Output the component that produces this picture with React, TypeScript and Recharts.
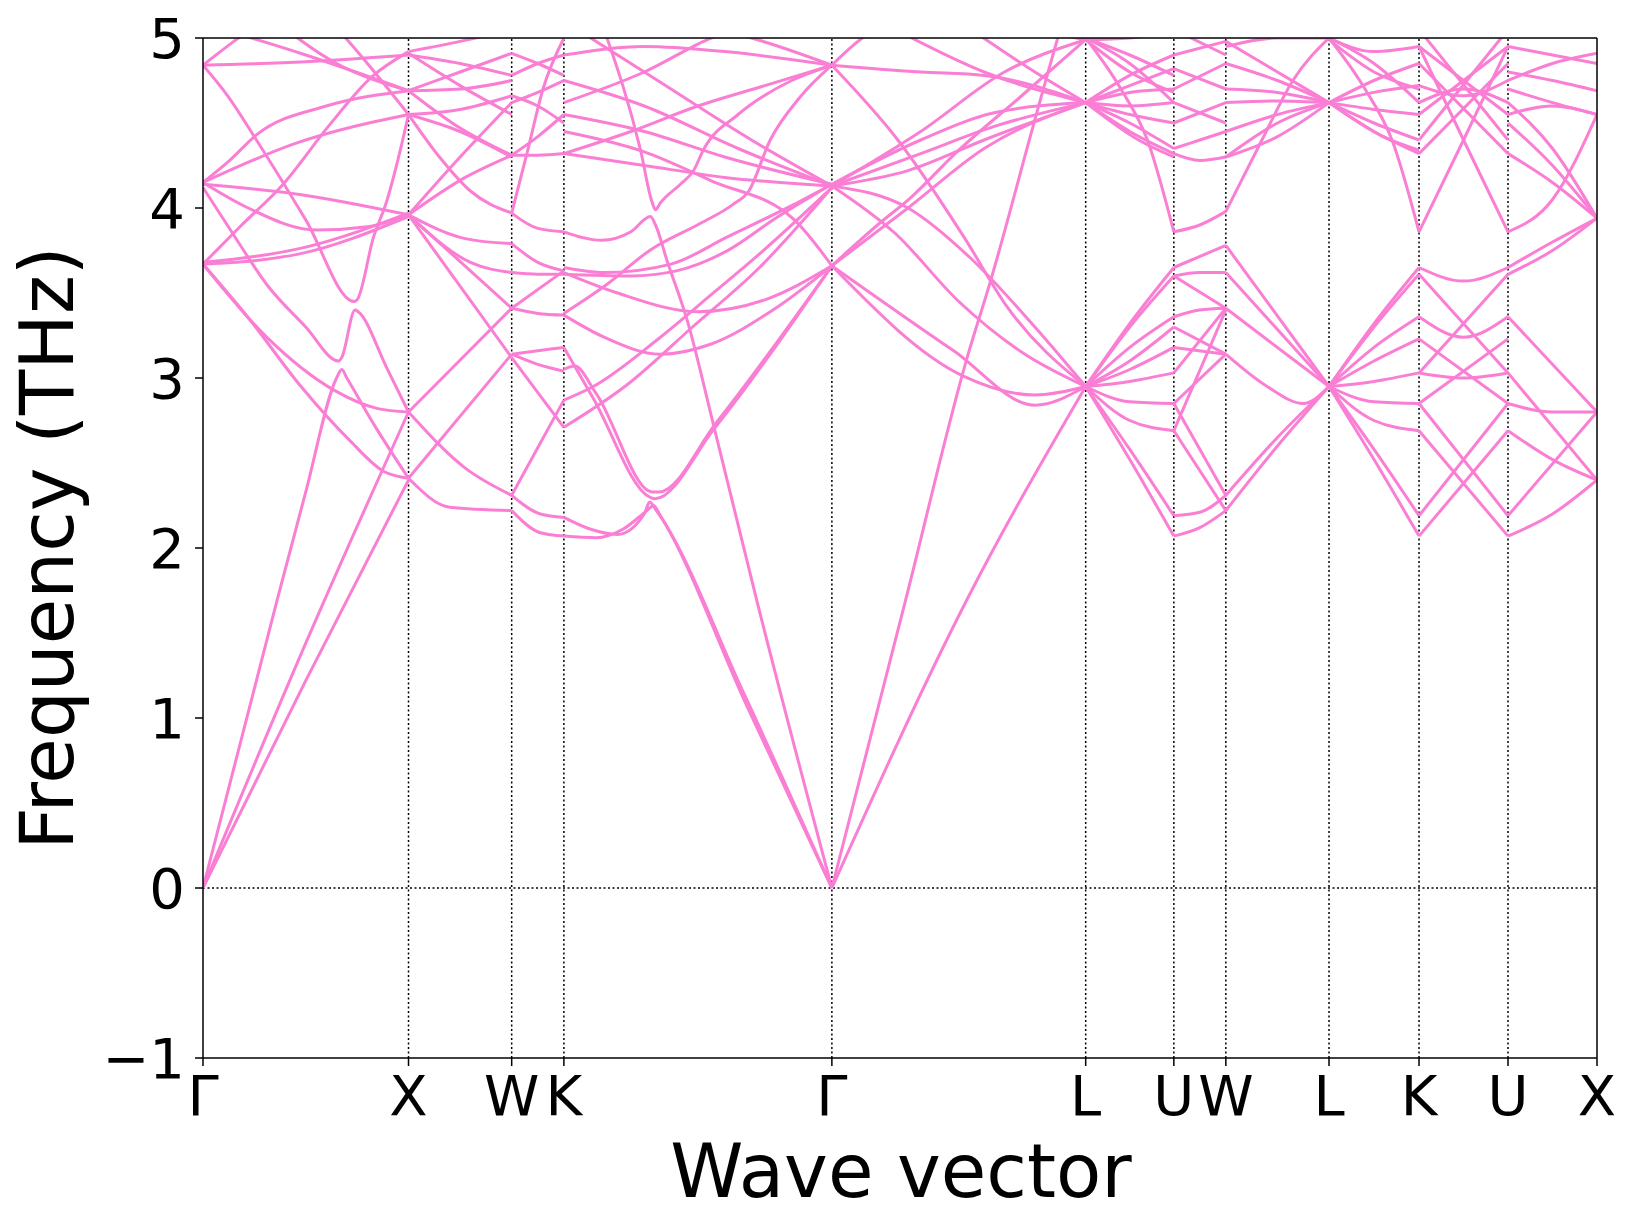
import { LineChart, Line, XAxis, YAxis, ReferenceLine } from "recharts";

// path positions of the high-symmetry points (wave vector axis)
const pathTicks = [0, 1, 1.502, 1.756, 3.06, 4.295, 4.724, 4.977, 5.479, 5.917, 6.35, 6.783];
const pathLabels = ["Γ", "X", "W", "K", "Γ", "L", "U", "W", "L", "K", "U", "X"];
const freqTicks = [-1, 0, 1, 2, 3, 4, 5];

// each band piece: [fraction along segment, frequency THz]
type Band = number[][];

const gammaX: Band[] = [
  [[0, 0], [0.5, 1.22], [1, 2.4]],
  [[0, 0], [0.5, 1.44], [1, 2.8]],
  [[0, 0], [0.36, 1.69], [0.5, 2.33], [0.65, 3.0], [0.675, 3.05], [0.7, 3.0], [0.83, 2.73], [1, 2.41]],
  [[0, 4.12], [0.15, 3.84], [0.31, 3.55], [0.5, 3.3], [0.66, 3.1], [0.675, 3.12], [0.74, 3.4], [0.755, 3.39], [0.894, 3.06], [1, 2.8]],
  [[0, 4.84], [0.12, 4.66], [0.26, 4.4], [0.5, 3.93], [0.735, 3.45], [0.75, 3.46], [0.83, 3.83], [0.894, 4.04], [0.96, 4.34], [1, 4.55]],
  [[0, 4.15], [0.13, 4.28], [0.26, 4.43], [0.6, 4.6], [1, 4.69]],
  [[0, 3.67], [0.23, 3.34], [0.47, 2.96], [0.716, 2.63], [0.88, 2.45], [1, 2.41]],
  [[0, 3.67], [0.31, 3.24], [0.635, 2.93], [0.85, 2.82], [1, 2.8]],
  [[0, 3.67], [0.47, 3.73], [1, 3.95]],
  [[0, 3.68], [0.5, 3.77], [1, 3.97]],
  [[0, 3.67], [0.18, 3.89], [0.39, 4.14], [0.61, 4.48], [0.82, 4.77], [1, 4.92]],
  [[0, 4.15], [0.22, 4.0], [0.55, 3.87], [0.8, 3.89], [1, 3.96]],
  [[0, 4.14], [0.47, 4.08], [1, 3.96]],
  [[0, 4.15], [0.45, 4.38], [1, 4.55]],
  [[0, 4.84], [0.5, 4.86], [1, 4.9]],
  [[0, 4.84], [0.15, 4.98], [0.35, 5.15]],
  [[0.3, 5.15], [0.65, 4.85], [1, 4.69]],
  [[0.55, 5.2], [0.8, 4.85], [1, 4.55]],
  [[0.1, 5.05], [0.5, 4.9], [1, 4.69]],
];

const xW: Band[] = [
  [[0, 2.41], [1, 3.14]],
  [[0, 2.8], [1, 3.41]],
  [[0, 2.8], [0.55, 2.47], [1, 2.31]],
  [[0, 2.41], [0.4, 2.24], [1, 2.22]],
  [[0, 3.96], [1, 3.12]],
  [[0, 3.96], [1, 3.41]],
  [[0, 3.96], [0.6, 3.68], [1, 3.62]],
  [[0, 3.96], [0.55, 3.82], [1, 3.79]],
  [[0, 3.96], [0.55, 4.18], [1, 4.31]],
  [[0, 3.96], [0.5, 4.3], [1, 4.62]],
  [[0, 4.55], [0.3, 4.3], [0.6, 4.1], [1, 3.97]],
  [[0, 4.55], [0.5, 4.58], [1, 4.66]],
  [[0, 4.55], [0.5, 4.45], [1, 4.3]],
  [[0, 4.69], [0.5, 4.47], [1, 4.31]],
  [[0, 4.69], [0.5, 4.7], [1, 4.75]],
  [[0, 4.69], [0.5, 4.8], [1, 4.91]],
  [[0, 4.91], [0.5, 4.72], [1, 4.55]],
  [[0, 4.92], [0.5, 4.98], [1, 5.05]],
  [[0, 4.9], [0.5, 4.85], [1, 4.78]],
];

const wK: Band[] = [
  [[0, 2.22], [0.55, 2.09], [1, 2.07]],
  [[0, 2.31], [0.55, 2.2], [1, 2.18]],
  [[0, 3.12], [1, 2.71]],
  [[0, 2.31], [1, 2.87]],
  [[0, 3.14], [0.5, 3.16], [1, 3.18]],
  [[0, 3.14], [0.5, 3.08], [1, 3.04]],
  [[0, 3.41], [0.5, 3.38], [1, 3.37]],
  [[0, 3.41], [1, 3.63]],
  [[0, 3.62], [0.5, 3.61], [1, 3.61]],
  [[0, 3.79], [0.5, 3.68], [1, 3.63]],
  [[0, 3.97], [0.5, 3.88], [1, 3.86]],
  [[0, 3.97], [0.3, 4.33], [0.6, 4.7], [1, 5.0]],
  [[0, 4.31], [0.5, 4.31], [1, 4.32]],
  [[0, 4.31], [0.5, 4.42], [1, 4.55]],
  [[0, 4.62], [0.5, 4.68], [1, 4.75]],
  [[0, 4.66], [0.5, 4.6], [1, 4.5]],
  [[0, 4.91], [0.5, 4.85], [1, 4.78]],
  [[0, 4.78], [0.5, 4.85], [1, 4.9]],
];

const kGamma: Band[] = [
  [[0, 2.07], [0.12, 2.06], [0.22, 2.11], [0.31, 2.22], [0.335, 2.25], [0.36, 2.19], [0.68, 1.08], [1, 0]],
  [[0, 2.18], [0.1, 2.11], [0.2, 2.08], [0.3, 2.2], [0.32, 2.27], [0.345, 2.22], [0.67, 1.15], [1, 0]],
  [[0, 3.86], [0.14, 3.81], [0.25, 3.86], [0.323, 3.95], [0.342, 3.9], [0.385, 3.69], [0.46, 3.34], [0.559, 2.72], [0.72, 1.69], [1, 0]],
  [[0.15, 5.05], [0.286, 4.34], [0.33, 4.03], [0.342, 3.99], [0.36, 4.03], [0.435, 4.14], [0.484, 4.22], [0.52, 4.34], [0.65, 4.55], [0.85, 4.75], [1, 4.84]],
  [[0, 3.18], [0.11, 2.88], [0.32, 2.3], [0.34, 2.29], [0.56, 2.7], [1, 3.66]],
  [[0, 3.05], [0.04, 3.07], [0.12, 2.91], [0.33, 2.33], [0.355, 2.33], [0.57, 2.74], [1, 3.66]],
  [[0, 3.62], [0.2, 3.5], [0.5, 3.39], [0.75, 3.46], [1, 3.66]],
  [[0, 3.37], [0.15, 3.24], [0.36, 3.14], [0.55, 3.2], [0.78, 3.4], [1, 3.66]],
  [[0, 3.65], [0.15, 3.62], [0.4, 3.67], [0.61, 3.83], [0.857, 4.02], [1, 4.14]],
  [[0, 3.61], [0.25, 3.6], [0.42, 3.63], [0.6, 3.74], [0.8, 3.95], [1, 4.14]],
  [[0, 3.38], [0.16, 3.55], [0.32, 3.75], [0.51, 3.91], [0.63, 4.02], [0.69, 4.1], [0.77, 4.4], [0.88, 4.65], [1, 4.84]],
  [[0, 2.87], [0.11, 2.95], [0.36, 3.24], [0.55, 3.49], [0.73, 3.73], [1, 4.12]],
  [[0, 2.71], [0.236, 2.96], [0.48, 3.3], [0.73, 3.65], [1, 4.12]],
  [[0, 4.45], [0.3, 4.33], [0.55, 4.16], [0.86, 3.93], [1, 3.66]],
  [[0, 4.32], [0.3, 4.25], [0.6, 4.18], [1, 4.13]],
  [[0, 4.55], [0.3, 4.45], [0.6, 4.3], [1, 4.14]],
  [[0, 4.75], [0.3, 4.6], [0.65, 4.35], [1, 4.13]],
  [[0.05, 5.05], [0.35, 4.75], [0.7, 4.4], [1, 4.13]],
  [[0, 4.32], [0.25, 4.45], [0.5, 4.6], [0.75, 4.72], [1, 4.84]],
  [[0, 4.9], [0.3, 4.95], [0.6, 4.92], [1, 4.84]],
  [[0.4, 5.1], [0.7, 5.0], [1, 4.84]],
  [[0, 4.62], [0.3, 4.8], [0.55, 5.0], [0.75, 5.1]],
];

const gammaL: Band[] = [
  [[0, 0], [0.29, 1.69], [0.533, 3.12], [0.625, 3.57], [0.8, 4.52], [0.89, 5.0], [0.95, 5.3]],
  [[0, 0], [0.53, 1.69], [1, 2.95]],
  [[0, 3.66], [0.48, 3.16], [0.8, 2.84], [1, 2.95]],
  [[0, 3.66], [0.52, 3.01], [0.8, 2.9], [1, 2.95]],
  [[0, 4.13], [0.25, 3.85], [0.5, 3.45], [0.75, 3.15], [1, 2.95]],
  [[0, 4.13], [0.3, 4.0], [0.55, 3.7], [0.8, 3.3], [1, 2.95]],
  [[0, 4.84], [0.26, 4.4], [0.52, 3.83], [0.69, 3.42], [1, 2.95]],
  [[0, 4.14], [0.35, 4.4], [0.64, 4.56], [1, 4.62]],
  [[0, 4.13], [0.35, 4.32], [0.64, 4.48], [1, 4.62]],
  [[0, 4.13], [0.3, 4.22], [0.6, 4.4], [1, 4.62]],
  [[0, 4.13], [0.35, 4.45], [0.68, 4.8], [1, 4.99]],
  [[0, 3.66], [0.18, 3.9], [0.31, 4.06], [0.5, 4.34], [0.74, 4.65], [1, 4.99]],
  [[0, 3.66], [0.3, 4.0], [0.6, 4.35], [1, 4.62]],
  [[0, 4.84], [0.35, 4.8], [0.6, 4.78], [1, 4.62]],
  [[0, 4.84], [0.12, 5.0], [0.25, 5.1]],
  [[0.25, 5.05], [0.6, 4.8], [1, 4.62]],
  [[0.5, 5.1], [0.8, 4.8], [1, 4.62]],
  [[0.6, 5.1], [1, 4.99]],
];

const lU: Band[] = [
  [[0, 2.95], [0.5, 3.32], [1, 3.65]],
  [[0, 2.95], [0.5, 3.3], [1, 3.6]],
  [[0, 2.95], [0.5, 3.18], [1, 3.36]],
  [[0, 2.95], [0.5, 3.1], [1, 3.3]],
  [[0, 2.95], [0.5, 3.05], [1, 3.18]],
  [[0, 2.95], [0.5, 2.98], [1, 3.03]],
  [[0, 2.95], [0.5, 2.86], [1, 2.85]],
  [[0, 2.95], [0.5, 2.75], [1, 2.69]],
  [[0, 2.95], [0.5, 2.58], [1, 2.19]],
  [[0, 2.95], [0.5, 2.52], [1, 2.07]],
  [[0, 4.62], [0.5, 4.45], [1, 4.32]],
  [[0, 4.62], [0.5, 4.5], [1, 4.35]],
  [[0, 4.62], [0.6, 4.4], [1, 4.3]],
  [[0, 4.62], [0.5, 4.55], [1, 4.5]],
  [[0, 4.62], [0.5, 4.6], [1, 4.62]],
  [[0, 4.62], [0.5, 4.68], [1, 4.7]],
  [[0, 4.62], [0.5, 4.72], [1, 4.82]],
  [[0, 4.62], [0.5, 4.78], [1, 4.9]],
  [[0, 5.0], [0.5, 4.85], [1, 4.62]],
  [[0, 5.0], [0.5, 4.9], [1, 4.78]],
  [[0, 4.99], [0.5, 4.8], [1, 4.68]],
  [[0, 4.99], [0.5, 5.0], [1, 5.05]],
  [[0, 5.0], [0.4, 4.7], [0.7, 4.4], [1, 3.86]],
];

const uW: Band[] = [
  [[0, 2.07], [0.5, 2.12], [1, 2.22]],
  [[0, 2.19], [0.5, 2.21], [1, 2.31]],
  [[0, 2.85], [1, 2.31]],
  [[0, 2.69], [1, 2.22]],
  [[0, 2.69], [1, 3.4]],
  [[0, 2.85], [1, 3.14]],
  [[0, 3.03], [1, 3.41]],
  [[0, 3.18], [1, 3.14]],
  [[0, 3.36], [0.5, 3.4], [1, 3.41]],
  [[0, 3.3], [1, 3.14]],
  [[0, 3.6], [0.5, 3.62], [1, 3.62]],
  [[0, 3.65], [1, 3.78]],
  [[0, 3.6], [1, 3.41]],
  [[0, 3.86], [0.5, 3.9], [1, 3.98]],
  [[0, 4.32], [0.5, 4.28], [1, 4.3]],
  [[0, 4.35], [0.5, 4.4], [1, 4.45]],
  [[0, 4.5], [1, 4.62]],
  [[0, 4.62], [1, 4.5]],
  [[0, 4.7], [1, 4.85]],
  [[0, 4.82], [1, 4.7]],
  [[0, 4.9], [1, 4.98]],
  [[0, 5.05], [1, 4.9]],
];

const wL: Band[] = [
  [[0, 2.22], [0.5, 2.6], [1, 2.95]],
  [[0, 2.31], [0.5, 2.65], [1, 2.95]],
  [[0, 3.14], [0.4, 2.95], [0.75, 2.85], [1, 2.95]],
  [[0, 3.41], [1, 2.95]],
  [[0, 3.62], [1, 2.95]],
  [[0, 3.78], [1, 2.95]],
  [[0, 3.98], [0.35, 4.4], [0.65, 4.75], [1, 5.0]],
  [[0, 4.3], [0.5, 4.5], [1, 4.62]],
  [[0, 4.3], [0.5, 4.42], [1, 4.62]],
  [[0, 4.45], [0.5, 4.55], [1, 4.62]],
  [[0, 4.62], [0.5, 4.63], [1, 4.62]],
  [[0, 4.7], [0.5, 4.68], [1, 4.62]],
  [[0, 4.85], [0.5, 4.75], [1, 4.62]],
  [[0, 4.98], [0.5, 4.8], [1, 4.62]],
  [[0, 4.95], [0.5, 5.0], [1, 5.0]],
];

const lK: Band[] = [
  [[0, 2.95], [0.5, 3.32], [1, 3.65]],
  [[0, 2.95], [0.5, 3.3], [1, 3.61]],
  [[0, 2.95], [0.5, 3.18], [1, 3.36]],
  [[0, 2.95], [0.5, 3.1], [1, 3.23]],
  [[0, 2.95], [0.5, 2.98], [1, 3.03]],
  [[0, 2.95], [0.5, 2.86], [1, 2.85]],
  [[0, 2.95], [0.5, 2.75], [1, 2.69]],
  [[0, 2.95], [0.5, 2.58], [1, 2.19]],
  [[0, 2.95], [0.5, 2.52], [1, 2.07]],
  [[0, 4.62], [0.5, 4.45], [1, 4.32]],
  [[0, 4.62], [0.5, 4.5], [1, 4.4]],
  [[0, 4.62], [0.6, 4.42], [1, 4.34]],
  [[0, 4.62], [0.5, 4.58], [1, 4.55]],
  [[0, 4.62], [0.5, 4.68], [1, 4.72]],
  [[0, 4.62], [0.5, 4.75], [1, 4.85]],
  [[0, 5.0], [0.5, 4.85], [1, 4.62]],
  [[0, 4.99], [0.5, 4.8], [1, 4.7]],
  [[0, 5.0], [0.5, 4.92], [1, 4.95]],
  [[0, 5.0], [0.4, 4.7], [0.7, 4.4], [1, 3.86]],
];

const kU: Band[] = [
  [[0, 3.86], [0.5, 4.4], [1, 4.95]],
  [[0, 4.95], [0.5, 4.4], [1, 3.86]],
  [[0, 3.65], [0.5, 3.57], [1, 3.65]],
  [[0, 3.61], [1, 3.03]],
  [[0, 3.03], [1, 3.61]],
  [[0, 3.36], [0.5, 3.24], [1, 3.36]],
  [[0, 3.03], [0.5, 3.0], [1, 3.03]],
  [[0, 3.23], [1, 2.85]],
  [[0, 2.85], [1, 3.23]],
  [[0, 2.85], [1, 2.19]],
  [[0, 2.19], [1, 2.85]],
  [[0, 2.69], [1, 2.07]],
  [[0, 2.07], [1, 2.69]],
  [[0, 4.32], [1, 4.85]],
  [[0, 4.85], [1, 4.32]],
  [[0, 4.55], [1, 4.95]],
  [[0, 4.95], [1, 4.55]],
  [[0, 4.62], [0.5, 4.7], [1, 4.62]],
  [[0, 4.72], [0.5, 4.66], [1, 4.75]],
  [[0, 4.4], [1, 5.05]],
  [[0, 5.05], [1, 4.4]],
];

const uX: Band[] = [
  [[0, 2.07], [0.5, 2.2], [1, 2.4]],
  [[0, 2.19], [1, 2.8]],
  [[0, 2.69], [0.5, 2.52], [1, 2.4]],
  [[0, 2.85], [0.5, 2.8], [1, 2.8]],
  [[0, 3.03], [1, 2.4]],
  [[0, 3.36], [1, 2.8]],
  [[0, 3.61], [0.5, 3.75], [1, 3.94]],
  [[0, 3.65], [0.5, 3.8], [1, 3.94]],
  [[0, 3.86], [0.5, 4.05], [1, 4.55]],
  [[0, 4.32], [0.5, 4.15], [1, 3.94]],
  [[0, 4.5], [0.5, 4.25], [1, 3.94]],
  [[0, 4.62], [0.5, 4.35], [1, 3.94]],
  [[0, 4.7], [0.5, 4.62], [1, 4.55]],
  [[0, 4.8], [0.5, 4.75], [1, 4.69]],
  [[0, 4.95], [0.5, 4.9], [1, 4.85]],
  [[0, 4.75], [0.5, 4.85], [1, 4.91]],
  [[0, 4.55], [0.5, 4.6], [1, 4.55]],
];

const segments = [gammaX, xW, wK, kGamma, gammaL, lU, uW, wL, lK, kU, uX];

const bandLines = segments.flatMap((bands, i) => {
  const x0 = pathTicks[i];
  const x1 = pathTicks[i + 1];
  return bands.map((b) => b.map(([s, f]) => ({ x: x0 + s * (x1 - x0), f })));
});

const FONT = "DejaVu Sans";
const PINK = "#fa7fd4";

export default function App() {
  return (
    <div style={{ position: "absolute", left: 0, top: 0, width: 1635, height: 1229, background: "#fff", fontFamily: FONT }}>
      <LineChart width={1635} height={1229} margin={{ top: 38, right: 38, bottom: 111, left: 83 }}>
        <XAxis
          dataKey="x"
          type="number"
          domain={[0, 6.783]}
          ticks={pathTicks}
          interval={0}
          allowDataOverflow
          height={60}
          tickFormatter={(_v: number, i: number) => pathLabels[i]}
          tick={{ fill: "#000", fontSize: 56, fontFamily: FONT }}
          tickSize={8}
          tickMargin={9}
          axisLine={{ stroke: "#000", strokeWidth: 1.5 }}
          tickLine={{ stroke: "#000", strokeWidth: 1.5 }}
        />
        <YAxis
          type="number"
          domain={[-1, 5]}
          ticks={freqTicks}
          interval={0}
          allowDataOverflow
          width={120}
          tickFormatter={(v: number) => (v < 0 ? "\u2212" + Math.abs(v) : String(v))}
          tick={{ fill: "#000", fontSize: 56, fontFamily: FONT }}
          tickSize={8}
          tickMargin={10}
          axisLine={{ stroke: "#000", strokeWidth: 1.5 }}
          tickLine={{ stroke: "#000", strokeWidth: 1.5 }}
        />
        {pathTicks.slice(1, -1).map((x, i) => (
          <ReferenceLine key={"v" + i} x={x} stroke="#000" strokeWidth={1.5} strokeDasharray="2 2.5" />
        ))}
        <ReferenceLine y={0} stroke="#000" strokeWidth={1.5} strokeDasharray="2 2.5" />
        {bandLines.map((d, i) => (
          <Line
            key={i}
            data={d}
            dataKey="f"
            type="monotone"
            stroke={PINK}
            strokeWidth={3}
            dot={false}
            activeDot={false}
            isAnimationActive={false}
          />
        ))}
        <ReferenceLine y={5} stroke="#000" strokeWidth={1.5} />
        <ReferenceLine x={6.783} stroke="#000" strokeWidth={1.5} />
      </LineChart>
      <div
        style={{
          position: "absolute",
          left: 901,
          top: 1134,
          transform: "translateX(-50%)",
          fontSize: 74,
          lineHeight: "74px",
          whiteSpace: "nowrap",
        }}
      >
        Wave vector
      </div>
      <div
        style={{
          position: "absolute",
          left: 47,
          top: 548,
          transform: "translate(-50%, -50%) rotate(-90deg)",
          fontSize: 74,
          lineHeight: "74px",
          whiteSpace: "nowrap",
        }}
      >
        Frequency (THz)
      </div>
    </div>
  );
}
